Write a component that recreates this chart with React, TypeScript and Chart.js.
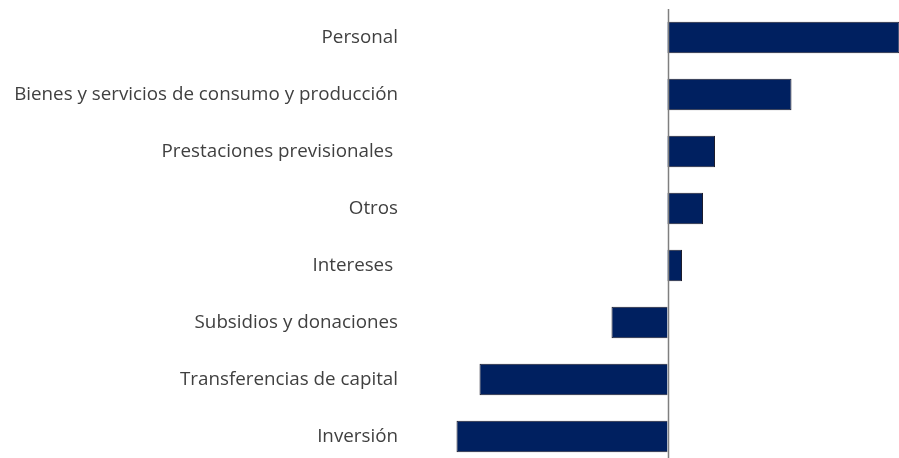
import React, { useEffect, useRef } from "react";
import { Chart, registerables } from "chart.js";

Chart.register(...registerables);

const categories = [
  "Personal",
  "Bienes y servicios de consumo y producción",
  "Prestaciones previsionales ",
  "Otros",
  "Intereses ",
  "Subsidios y donaciones",
  "Transferencias de capital",
  "Inversión",
];

const values = [23.2, 12.4, 4.75, 3.55, 1.45, -5.6, -18.8, -21.1];

const xMin = -25.75;
const xMax = 23.15;

const zeroLine = {
  id: "zeroLine",
  afterDatasetsDraw(chart: any) {
    const { ctx, chartArea, scales } = chart;
    const x = Math.round(scales.x.getPixelForValue(0)) + 0.5;
    ctx.save();
    ctx.strokeStyle = "#7f7f7f";
    ctx.lineWidth = 1.5;
    ctx.beginPath();
    ctx.moveTo(x, chartArea.top);
    ctx.lineTo(x, chartArea.bottom);
    ctx.stroke();
    ctx.restore();
  },
};

export default function App() {
  const ref = useRef<HTMLCanvasElement | null>(null);

  useEffect(() => {
    if (!ref.current) return;
    const chart = new Chart(ref.current, {
      type: "bar",
      data: {
        labels: categories,
        datasets: [
          {
            data: values,
            backgroundColor: "#002060",
            borderColor: "#1c1c2c",
            borderWidth: 1,
            categoryPercentage: 1,
            barPercentage: 0.55,
          },
        ],
      },
      options: {
        indexAxis: "y",
        animation: false,
        responsive: false,
        maintainAspectRatio: false,
        layout: { padding: { top: 9, right: 0, left: 0, bottom: 0 } },
        plugins: {
          legend: { display: false },
          tooltip: { enabled: false },
        },
        scales: {
          x: {
            min: xMin,
            max: xMax,
            display: false,
          },
          y: {
            border: { display: false },
            grid: { display: false, drawTicks: false },
            ticks: {
              padding: 12,
              color: "#404040",
              font: { family: "'Open Sans', 'Noto Sans', sans-serif", size: 18.8 },
            },
            afterFit: (scale: any) => {
              scale.width = 410;
              scale.paddingTop = 0;
              scale.paddingBottom = 0;
            },
          },
        },
      },
      plugins: [zeroLine],
    });
    return () => chart.destroy();
  }, []);

  return (
    <div
      style={{
        position: "fixed",
        left: 0,
        top: 0,
        width: 899,
        height: 458,
        overflow: "hidden",
        background: "#fff",
      }}
    >
      <canvas ref={ref} width={899} height={465} style={{ display: "block" }} />
    </div>
  );
}
